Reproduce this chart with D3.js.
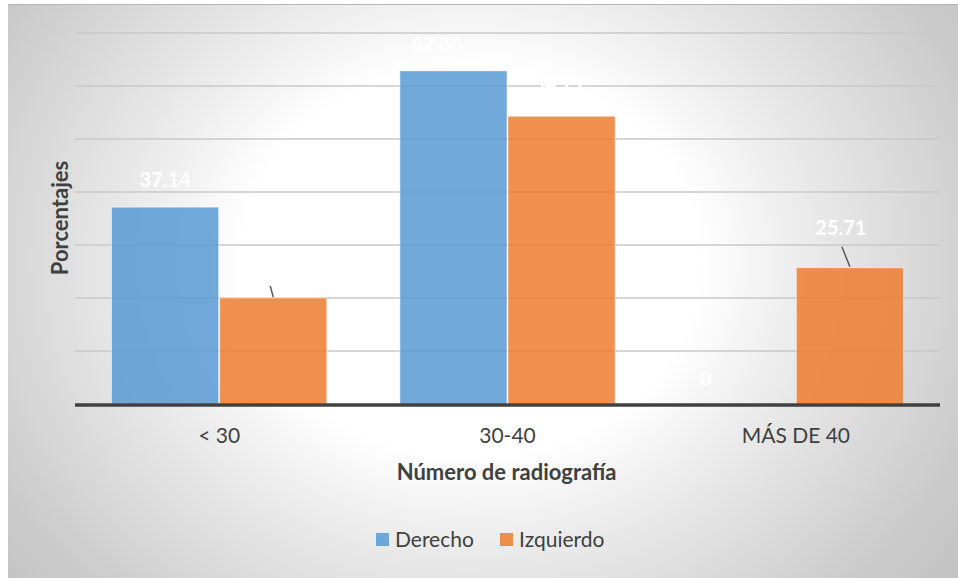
<!DOCTYPE html>
<html>
<head>
<meta charset="utf-8">
<script src="https://cdn.jsdelivr.net/npm/d3@7/dist/d3.min.js"></script>
<style>
  html, body { margin: 0; padding: 0; background: #ffffff; }
  svg { display: block; }
  text { font-family: Lato, "Open Sans", sans-serif; }
</style>
</head>
<body>
<svg id="chart" width="958" height="578"></svg>
<script>
// Data
const categories = ["< 30", "30-40", "MÁS DE 40"];
const seriesNames = ["Derecho", "Izquierdo"];
const derecho = [37.14, 62.86, 0];
const izquierdo = [20.00, 54.29, 25.71];
const yTicks = [0, 10, 20, 30, 40, 50, 60, 70];

const colors = { Derecho: "#5b9bd5", Izquierdo: "#ed7d31" };

const W = 958, H = 578;
const plot = { left: 75, right: 940, top: 33, bottom: 404 };

const svg = d3.select("#chart");
const defs = svg.append("defs");

// Chart area background: elliptical fade from a white centre to grey edges
const gcx = 470, gcy = 262;
const grad = defs.append("radialGradient")
  .attr("id", "bg")
  .attr("gradientUnits", "userSpaceOnUse")
  .attr("cx", gcx).attr("cy", gcy).attr("r", 620)
  .attr("gradientTransform", `translate(${gcx},${gcy}) scale(1,0.85) translate(${-gcx},${-gcy})`);
[[0, "#ffffff"], [0.37, "#ffffff"], [0.47, "#f3f3f3"], [0.6, "#e5e5e5"],
 [0.72, "#d9d9d9"], [0.86, "#cbcbcb"], [1, "#c2c2c2"]]
  .forEach(([o, c]) => grad.append("stop").attr("offset", o).attr("stop-color", c));

svg.append("rect")
  .attr("x", 8).attr("y", 4).attr("width", W - 8).attr("height", H - 4)
  .attr("fill", "url(#bg)");
svg.append("line")
  .attr("x1", 8).attr("x2", W).attr("y1", 4.5).attr("y2", 4.5)
  .attr("stroke", "#b4b4b4").attr("stroke-width", 1);

// Scales
const x0 = d3.scaleBand().domain(categories)
  .range([plot.left, plot.right]).paddingInner(0.25).paddingOuter(0.125);
const x1 = d3.scaleBand().domain(seriesNames).range([0, x0.bandwidth()]).padding(0);
const y = d3.scaleLinear().domain([0, 70]).range([plot.bottom, plot.top]);

// Gridlines
svg.append("g").selectAll("line")
  .data(yTicks.filter(d => d > 0))
  .join("line")
  .attr("x1", plot.left).attr("x2", plot.right)
  .attr("y1", d => y(d)).attr("y2", d => y(d))
  .attr("stroke", "#c8c8c8").attr("stroke-width", 1.5);

// Bars
const rows = categories.map((c, i) => ({
  cat: c,
  vals: [
    { key: "Derecho", value: derecho[i] },
    { key: "Izquierdo", value: izquierdo[i] }
  ]
}));

const groups = svg.append("g").selectAll("g")
  .data(rows).join("g")
  .attr("transform", d => `translate(${x0(d.cat)},0)`);

groups.selectAll("rect")
  .data(d => d.vals)
  .join("rect")
  .attr("x", d => x1(d.key) + 0.5)
  .attr("width", x1.bandwidth() - 1)
  .attr("y", d => y(d.value))
  .attr("height", d => y(0) - y(d.value))
  .attr("fill", d => colors[d.key])
  .attr("fill-opacity", 0.86)
  .attr("stroke", "#ffffff")
  .attr("stroke-opacity", 0.5)
  .attr("stroke-width", 1);

// X axis baseline
svg.append("line")
  .attr("x1", plot.left).attr("x2", plot.right)
  .attr("y1", y(0) + 1).attr("y2", y(0) + 1)
  .attr("stroke", "#404040").attr("stroke-width", 3.5);

// Category labels via d3 axis
const xAxis = svg.append("g")
  .attr("transform", `translate(0,${y(0) + 2})`)
  .call(d3.axisBottom(x0).tickSize(0).tickPadding(22));
xAxis.select(".domain").remove();
xAxis.selectAll("text")
  .attr("fill", "#404040")
  .style("font-size", "21px")
  .style("font-family", "Lato, 'Open Sans', sans-serif");

// Data labels (white, bold); some carry a leader line to the bar
const labelOffsets = {
  "< 30|Derecho": { dx: 0, dy: -20, leader: null },
  "< 30|Izquierdo": { dx: -9, dy: -18, leader: [-3, -12] },
  "30-40|Derecho": { dx: -17, dy: -20, leader: null },
  "30-40|Izquierdo": { dx: -3, dy: -25, leader: null },
  "MÁS DE 40|Derecho": { dx: -36, dy: -18, leader: null },
  "MÁS DE 40|Izquierdo": { dx: -9, dy: -33, leader: [-8, -21] }
};

rows.forEach(r => {
  r.vals.forEach(v => {
    const o = labelOffsets[r.cat + "|" + v.key];
    const cx = x0(r.cat) + x1(v.key) + x1.bandwidth() / 2;
    const top = y(v.value);
    if (o.leader) {
      svg.append("line")
        .attr("x1", cx).attr("y1", top - 1)
        .attr("x2", cx + o.leader[0]).attr("y2", top + o.leader[1])
        .attr("stroke", "#595959").attr("stroke-width", 1.5);
    }
    svg.append("text")
      .attr("x", cx + o.dx).attr("y", top + o.dy)
      .attr("text-anchor", "middle")
      .attr("fill", "#ffffff")
      .style("font-size", "20px")
      .style("font-weight", "bold")
      .text(v.value === 0 ? "0" : v.value.toFixed(2));
  });
});

// Axis titles
svg.append("text")
  .attr("x", (plot.left + plot.right) / 2 - 1).attr("y", 480)
  .attr("text-anchor", "middle")
  .attr("fill", "#404040")
  .style("font-size", "22px").style("font-weight", "bold")
  .text("Número de radiografía");

svg.append("text")
  .attr("transform", `translate(68,218) rotate(-90)`)
  .attr("text-anchor", "middle")
  .attr("fill", "#404040")
  .style("font-size", "22px").style("font-weight", "bold")
  .text("Porcentajes");

// Legend
const legend = svg.append("g").attr("transform", "translate(376,533)");
const legendX = [0, 124];
seriesNames.forEach((name, i) => {
  const g = legend.append("g").attr("transform", `translate(${legendX[i]},0)`);
  g.append("rect").attr("width", 13).attr("height", 13)
    .attr("fill", colors[name]).attr("fill-opacity", 0.86);
  g.append("text").attr("x", 19).attr("y", 14)
    .attr("fill", "#404040")
    .style("font-size", "21px")
    .text(name);
});
</script>
</body>
</html>
